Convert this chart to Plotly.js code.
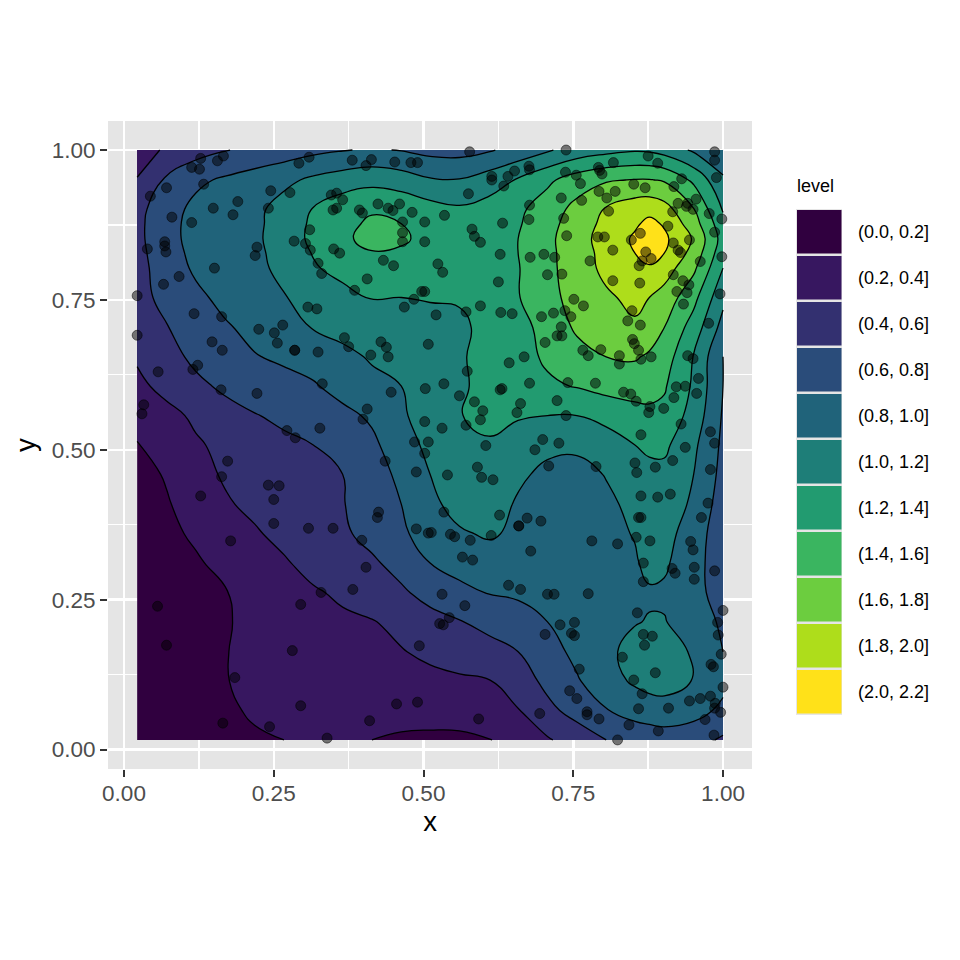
<!DOCTYPE html>
<html><head><meta charset="utf-8">
<script src="https://cdn.plot.ly/plotly-3.0.1.min.js"></script>
<style>html,body{margin:0;padding:0;background:#fff}#c{width:960px;height:960px}</style>
</head><body><div id="c"></div>
<script>
const gridX=[0.022,0.071,0.120,0.169,0.218,0.267,0.316,0.365,0.414,0.463,0.511,0.560,0.609,0.658,0.707,0.756,0.805,0.853,0.877,0.902,0.951,1.000];
const gridY=[0.016,0.065,0.114,0.163,0.213,0.262,0.311,0.360,0.409,0.459,0.508,0.557,0.606,0.655,0.704,0.754,0.803,0.828,0.852,0.877,0.901,0.950,1.000];
const densityRows=[
[.05,.08,.1,.14,.17,.2,.23,.22,.2,.17,.16,.16,.19,.28,.38,.49,.6,.68,.70,.72,.68,.57],
[.05,.07,.1,.16,.23,.26,.28,.29,.29,.28,.28,.29,.32,.39,.55,.67,.79,.87,.89,.9,.87,.76],
[.05,.07,.11,.19,.26,.29,.31,.32,.33,.34,.35,.37,.39,.5,.65,.78,.92,1.03,1.08,1.1,.99,.85],
[.05,.07,.12,.19,.27,.31,.33,.35,.37,.39,.44,.49,.54,.6,.72,.85,.96,1.06,1.1,1.12,.97,.8],
[.05,.08,.12,.18,.26,.31,.35,.37,.39,.45,.53,.59,.65,.72,.8,.87,.93,.99,1.01,1.01,.9,.77],
[.05,.08,.13,.19,.26,.32,.38,.43,.5,.57,.67,.75,.81,.83,.85,.87,.9,.94,.98,.97,.86,.72],
[.05,.09,.17,.27,.33,.38,.46,.52,.57,.67,.8,.87,.92,.94,.95,.95,.96,.98,1.05,1.03,.87,.69],
[.07,.14,.24,.33,.38,.45,.52,.57,.66,.77,.88,.98,1.02,.97,.93,.92,.95,1.01,1.05,1.07,.9,.68],
[.1,.18,.3,.38,.44,.5,.55,.59,.7,.8,.96,1.06,1.08,.98,.92,.91,.96,1.05,1.08,1.1,.97,.7],
[.12,.22,.34,.42,.47,.51,.55,.6,.72,.84,1.0,1.1,1.12,1.03,.96,.93,1.01,1.1,1.13,1.15,1.0,.74],
[.19,.28,.38,.44,.5,.56,.6,.68,.76,.91,1.05,1.15,1.17,1.1,1.04,1.04,1.12,1.2,1.25,1.24,1.04,.76],
[.27,.35,.43,.52,.59,.64,.69,.75,.83,.97,1.1,1.19,1.27,1.22,1.2,1.2,1.25,1.33,1.36,1.35,1.12,.78],
[.36,.45,.55,.64,.7,.74,.78,.87,.95,1.0,1.08,1.17,1.26,1.32,1.37,1.41,1.47,1.48,1.46,1.42,1.17,.8],
[.42,.52,.65,.74,.79,.83,.88,.95,1.02,1.07,1.12,1.18,1.26,1.33,1.43,1.53,1.6,1.62,1.57,1.5,1.19,.8],
[.47,.59,.7,.78,.85,.92,1.01,1.06,1.09,1.12,1.15,1.18,1.23,1.33,1.47,1.63,1.72,1.77,1.72,1.6,1.31,.93],
[.53,.66,.76,.85,.93,.99,1.06,1.14,1.21,1.2,1.21,1.21,1.27,1.39,1.54,1.67,1.77,1.85,1.8,1.72,1.46,1.05],
[.53,.7,.83,.9,.95,1.05,1.18,1.26,1.32,1.35,1.33,1.29,1.32,1.39,1.55,1.7,1.85,1.96,1.97,1.9,1.64,1.2],
[.54,.72,.85,.91,.95,1.08,1.21,1.32,1.39,1.38,1.35,1.3,1.33,1.4,1.55,1.71,1.86,2.0,2.1,2.0,1.73,1.27],
[.55,.74,.86,.91,.96,1.1,1.24,1.37,1.45,1.42,1.36,1.3,1.33,1.4,1.55,1.73,1.87,2.03,2.13,2.04,1.78,1.32],
[.55,.74,.86,.91,.95,1.1,1.23,1.35,1.43,1.4,1.33,1.27,1.31,1.38,1.53,1.7,1.85,1.97,2.05,1.98,1.69,1.27],
[.54,.72,.85,.91,.95,1.08,1.21,1.32,1.38,1.35,1.28,1.23,1.28,1.36,1.5,1.66,1.82,1.92,1.94,1.88,1.61,1.18],
[.41,.63,.76,.83,.89,.95,1.04,1.1,1.14,1.1,1.02,1.01,1.1,1.22,1.36,1.5,1.58,1.61,1.61,1.58,1.36,1.03],
[.3,.43,.52,.59,.65,.7,.75,.79,.82,.79,.74,.73,.78,.87,.98,1.08,1.14,1.18,1.17,1.12,.97,.85]
];
const pointsX=[.128,.166,.156,.113,.126,.133,.071,.044,.080,.113,.149,.190,.182,.245,.277,.241,.292,.309,.381,.413,.404,.452,.479,.490,.346,.355,.365,.349,.355,.393,.398,.424,.441,.449,.460,.481,.502,.465,.465,.465,.502,.310,.284,.303,.311,.350,.360,.324,.330,.433,.450,.406,.385,.497,.502,.484,.468,.307,.322,.068,.068,.070,.039,.222,.219,.151,.092,.066,.022,.022,.117,.163,.225,.265,.251,.256,.285,.285,.324,.147,.164,.368,.375,.429,.438,.441,.412,.123,.115,.057,.331,.162,.222,.446,.503,.406,.399,.502,.327,.272,.286,.485,.508,.033,.030,.508,
.577,.738,.875,.986,.986,.817,.891,.676,.677,.652,.641,.614,.614,.634,.575,.737,.755,.762,.792,.794,.798,.989,.931,.918,.851,.870,.793,.820,.806,.730,.764,.677,.925,.941,.955,.950,.939,.916,.809,.977,.535,.632,.676,.734,.998,.908,.986,.581,.585,.595,.739,.791,.802,.862,.847,.944,.917,.925,.929,.816,.871,.628,.678,.701,.719,.778,.865,.860,.880,.962,.998,.524,.532,.625,.707,.731,.816,.861,.917,.933,.943,.923,.940,.995,.751,.767,.595,.571,.521,.629,.648,.736,.746,.717,.697,.848,.841,.862,.934,.976,.730,.731,.723,.703,.849,.852,.859,.766,.775,.796,.827,.827,.863,.880,.941,.950,.643,.668,.573,.534,.677,.741,.787,.631,.628,.560,.585,.599,.595,.662,.656,.723,.834,.846,.855,.878,.876,.901,.918,.922,.937,.959,.956,.738,.930,.571,.531,.863,.699,.726,.604,.979,.986,.937,.686,
.173,.163,.128,.241,.259,.250,.250,.308,.349,.178,.436,.488,.425,.423,.488,.508,.397,.404,.382,.329,.295,.056,.071,.281,.185,.493,.295,.455,.490,.410,.165,.243,.339,.502,
.709,.788,.590,.540,.597,.616,.853,.856,.887,.916,.979,.863,.891,.912,.975,.534,.627,.673,.696,.659,.659,.859,.863,.964,.513,.545,.552,.578,.613,.781,.824,.855,.878,.946,.950,.679,.565,.582,.867,.867,.915,.920,.952,.952,.986,.642,.662,.707,.718,.775,.531,.569,.857,1.000,.543,.527,.533,.728,.752,.747,.752,.703,.991,.992,.867,.882,.869,.832,.997,.980,.984,.760,.887,.851,1.000,.744,.756,.865,.979,.962,.944,.987,.986,.996,.859,.909,.694,.592,.773,.773,.793,.970,.843,.892,.985,.824];
const pointsY=[.986,.990,.982,.971,.968,.943,.937,.923,.888,.879,.903,.914,.892,.932,.929,.903,.978,.988,.983,.984,.974,.980,.979,.979,.925,.928,.917,.900,.903,.900,.895,.910,.903,.899,.910,.896,.880,.880,.862,.847,.847,.867,.848,.844,.833,.835,.828,.811,.794,.816,.807,.785,.766,.764,.764,.751,.738,.738,.735,.847,.840,.830,.835,.838,.824,.803,.789,.776,.757,.691,.727,.722,.701,.708,.695,.678,.666,.666,.663,.680,.666,.687,.672,.680,.671,.655,.658,.641,.634,.630,.610,.600,.594,.596,.602,.568,.551,.547,.536,.532,.520,.513,.513,.575,.560,.676,
.997,1.000,.990,.997,.983,.979,.978,.973,.967,.965,.956,.956,.950,.940,.927,.963,.958,.944,.971,.966,.960,.954,.952,.939,.943,.937,.931,.931,.920,.920,.916,.908,.911,.911,.918,.901,.906,.897,.898,.894,.891,.878,.884,.886,.885,.873,.863,.868,.856,.846,.857,.855,.855,.861,.850,.850,.845,.833,.829,.833,.830,.826,.821,.826,.821,.815,.815,.807,.819,.814,.822,.810,.796,.780,.792,.793,.782,.778,.792,.782,.775,.764,.762,.760,.751,.740,.740,.730,.725,.729,.727,.732,.722,.728,.722,.732,.715,.708,.743,.711,.705,.690,.690,.679,.684,.677,.666,.666,.657,.667,.657,.643,.651,.655,.657,.652,.645,.655,.631,.610,.611,.612,.611,.602,.600,.590,.580,.565,.550,.577,.562,.582,.596,.593,.581,.572,.562,.569,.587,.605,.606,.619,.594,.557,.543,.541,.536,.525,.517,.511,.507,.530,.511,.504,.500,
.481,.455,.423,.441,.440,.417,.377,.369,.369,.348,.481,.463,.396,.387,.368,.361,.349,.304,.267,.262,.242,.239,.174,.165,.120,.173,.073,.076,.079,.048,.044,.038,.019,.494,
.473,.472,.471,.458,.454,.450,.478,.462,.471,.482,.467,.423,.421,.426,.411,.396,.391,.386,.381,.373,.373,.387,.387,.387,.362,.359,.355,.349,.357,.348,.343,.354,.348,.347,.333,.331,.321,.316,.311,.280,.302,.294,.304,.284,.298,.274,.267,.259,.259,.260,.259,.240,.228,.232,.220,.210,.208,.208,.212,.194,.190,.192,.212,.191,.192,.189,.174,.154,.159,.142,.138,.134,.128,.116,.104,.098,.085,.093,.089,.085,.081,.077,.069,.062,.068,.069,.060,.051,.063,.058,.051,.050,.041,.031,.024,.016];
const levelLabels=["(0.0, 0.2]","(0.2, 0.4]","(0.4, 0.6]","(0.6, 0.8]","(0.8, 1.0]","(1.0, 1.2]","(1.2, 1.4]","(1.4, 1.6]","(1.6, 1.8]","(1.8, 2.0]","(2.0, 2.2]"];
const levelColors=["#30003f","#371760","#333070","#2a4c7a","#20637a","#1e7e78","#229b70","#3ab560","#6ccd3f","#aedd1b","#ffe119"];
const tickVals=[0,0.25,0.5,0.75,1];
const tickText=["0.00","0.25","0.50","0.75","1.00"];

const W=960,H=960,L=108,R=752,T=121,B=769;
const px=v=>(v-L)/(R-L), py=v=>(B-v)/(B-T);
const FONT='"Liberation Sans", Arial, Helvetica, sans-serif';
const n=levelColors.length;
const cs=[];levelColors.forEach((c,i)=>{cs.push([i/n,c]);cs.push([(i+1)/n,c]);});
const shapes=[{type:'rect',xref:'paper',yref:'paper',x0:px(796),x1:px(842),y0:py(209),y1:py(715),fillcolor:'#e5e5e5',line:{width:0},layer:'below'}];
const ann=[{xref:'paper',yref:'paper',x:px(794.5),y:py(186),xanchor:'left',yanchor:'middle',text:'level',showarrow:false,font:{family:FONT,size:18,color:'#000'}}];
levelLabels.forEach((t,i)=>{
  const top=209+i*46;
  shapes.push({type:'rect',xref:'paper',yref:'paper',x0:px(797),x1:px(841.5),y0:py(top+1),y1:py(top+44.5),fillcolor:levelColors[i],line:{width:0}});
  ann.push({xref:'paper',yref:'paper',x:px(855.5),y:py(top+23),xanchor:'left',yanchor:'middle',text:t,showarrow:false,font:{family:FONT,size:18,color:'#000'}});
});
const axis=(title,range,standoff,labelShift)=>({range,tickmode:'array',tickvals:tickVals,ticktext:tickText,ticks:'outside',ticklen:7,tickwidth:2,tickcolor:'#333',
  tickfont:{family:FONT,size:22.5,color:'#4d4d4d'},ticklabelstandoff:labelShift,showgrid:true,gridcolor:'#fff',gridwidth:2.5,zeroline:false,showline:false,
  minor:{tickmode:'array',tickvals:[0.125,0.375,0.625,0.875],showgrid:true,gridcolor:'#fff',gridwidth:1.3,ticks:''},
  title:{text:title,font:{family:FONT,size:27.5,color:'#000'},standoff},automargin:false});
const traces=[
 {type:'contour',x:gridX,y:gridY,z:densityRows,zmin:0,zmax:2.2,autocontour:false,colorscale:cs,showscale:false,
  contours:{coloring:'fill',start:0.2,end:2.0,size:0.2,showlines:true},line:{color:'#000',width:1.3,smoothing:1.3},hoverinfo:'skip',connectgaps:true},
 {type:'scatter',mode:'markers',x:pointsX,y:pointsY,marker:{size:10,color:'rgba(0,0,0,0.5)',line:{width:1,color:'rgba(0,0,0,0.5)'}},hoverinfo:'skip'}
];
const layout={width:W,height:H,margin:{l:L,r:W-R,t:T,b:H-B,pad:0},paper_bgcolor:'#fff',plot_bgcolor:'#e5e5e5',showlegend:false,
 xaxis:axis('x',[-0.0267,1.0484],6,-3),yaxis:axis('y',[-0.0325,1.0484],8,0),shapes,annotations:ann,font:{family:FONT}};
Plotly.newPlot('c',traces,layout,{displayModeBar:false,staticPlot:true});
</script></body></html>
